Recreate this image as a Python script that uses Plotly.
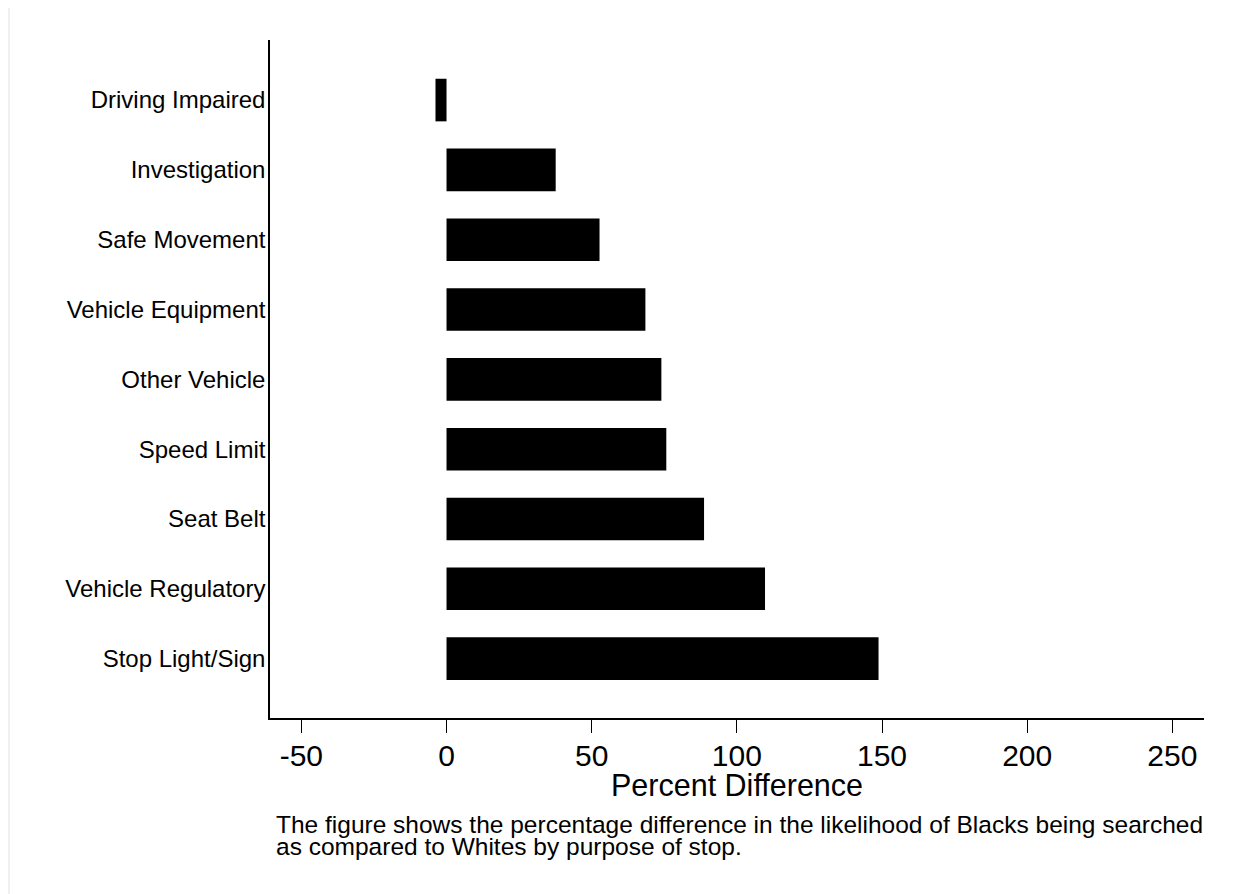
import plotly.graph_objects as go

categories = ["Driving Impaired", "Investigation", "Safe Movement", "Vehicle Equipment",
              "Other Vehicle", "Speed Limit", "Seat Belt", "Vehicle Regulatory", "Stop Light/Sign"]
values = [-3.8, 37.6, 52.7, 68.5, 74.0, 75.7, 88.7, 109.7, 148.8]
x_ticks = [-50, 0, 50, 100, 150, 200, 250]
x_title = "Percent Difference"
caption_lines = ["The figure shows the percentage difference in the likelihood of Blacks being searched",
                 "as compared to Whites by purpose of stop."]

FONT = "Liberation Sans, Arial, sans-serif"

# the page body adds an 8px margin; work in screenshot coordinates and subtract it
OFF = 8
W, H = 1236 - OFF, 894 - OFF
L, T = 270 - OFF, 40 - OFF          # plot area left / top (screenshot px minus offset)
PR, PB = 1204 - OFF, 718 - OFF      # plot area right / bottom
R, B = W - PR, H - PB
pw, ph = PR - L, PB - T

def px_x(p):
    return (p - OFF - L) / pw

def px_y(p):
    return (PB - (p - OFF)) / ph

fig = go.Figure()
fig.add_trace(go.Bar(
    x=values, y=categories, orientation="h",
    marker=dict(color="black", line=dict(width=0)),
    width=0.61, showlegend=False,
))

fig.update_layout(
    width=W, height=H,
    margin=dict(l=L, r=R, t=T, b=B, autoexpand=False),
    paper_bgcolor="white", plot_bgcolor="white",
    font=dict(family=FONT, color="black"),
    xaxis=dict(
        range=[-60.8, 260.9], tickvals=x_ticks, ticktext=[str(v) for v in x_ticks],
        showgrid=False, zeroline=False, showline=True, linecolor="black", linewidth=1.5,
        ticks="outside", ticklen=13, tickwidth=1, tickcolor="black",
        tickfont=dict(size=30, family=FONT, color="black"),
        ticklabelstandoff=-3,
    ),
    yaxis=dict(
        type="category", categoryorder="array", categoryarray=categories,
        range=[8.85, -0.86],
        showgrid=False, zeroline=False, showline=True, linecolor="black", linewidth=1.5,
        ticks="", tickfont=dict(size=24, family=FONT, color="black"),
        ticklabelstandoff=-2,
    ),
    shapes=[dict(type="rect", xref="paper", yref="paper",
                 x0=px_x(9), x1=px_x(1300), y0=px_y(1000), y1=px_y(7),
                 line=dict(color="#ececec", width=1.5), fillcolor="rgba(0,0,0,0)", layer="below")],
    annotations=[
        dict(text=x_title, xref="paper", yref="paper", x=px_x(737), y=px_y(784.5),
             xanchor="center", yanchor="middle", showarrow=False,
             font=dict(size=30.5, family=FONT, color="black")),
        dict(text=caption_lines[0], xref="paper", yref="paper", x=px_x(274), y=px_y(824.5),
             xanchor="left", yanchor="middle", showarrow=False,
             font=dict(size=24.5, family=FONT, color="black")),
        dict(text=caption_lines[1], xref="paper", yref="paper", x=px_x(274), y=px_y(846.5),
             xanchor="left", yanchor="middle", showarrow=False,
             font=dict(size=24.5, family=FONT, color="black")),
    ],
)

fig.write_html("out.html")
